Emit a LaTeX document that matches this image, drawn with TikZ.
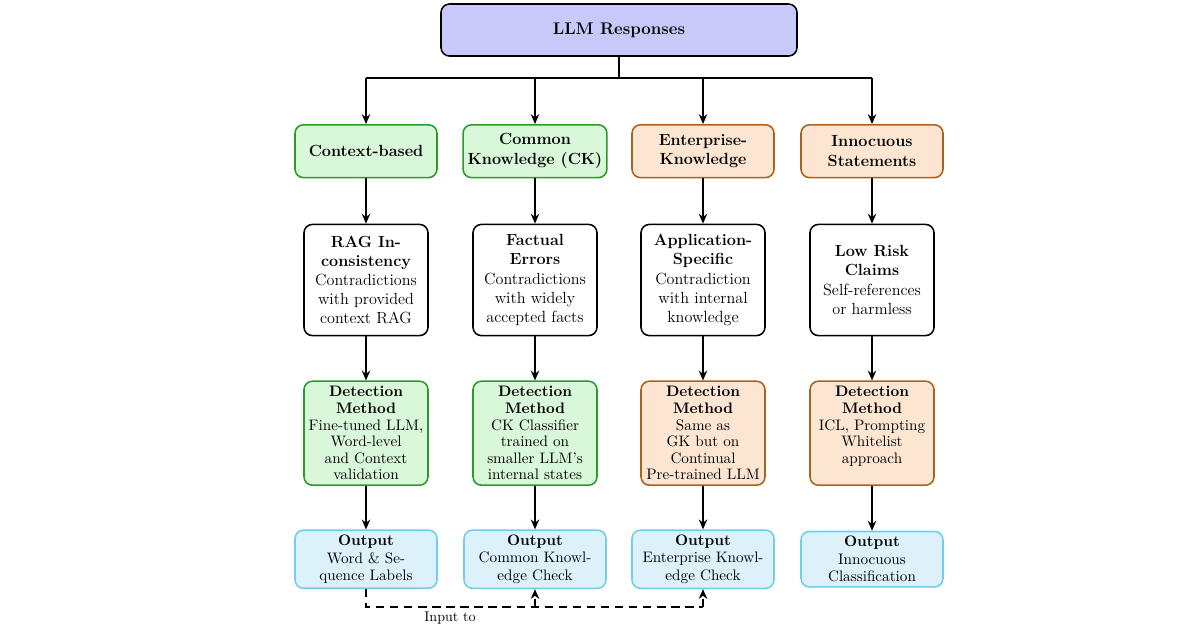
\documentclass[tikz,border=0pt]{standalone}
\usepackage{tikz}
\usetikzlibrary{arrows.meta,positioning}
\definecolor{topfill}{HTML}{C9C9F9}
\definecolor{grnfill}{HTML}{D9F7D9}
\definecolor{grnline}{HTML}{2A9A2A}
\definecolor{orgfill}{HTML}{FCE6D2}
\definecolor{orgline}{HTML}{A8621E}
\definecolor{bluefill}{HTML}{DDF1FA}
\definecolor{blueline}{HTML}{6FCDEE}
\tikzset{
  base/.style={rectangle, rounded corners=6pt, line width=1.1pt, align=center, font=\fontsize{11}{13.5}\selectfont},
  head/.style={base, draw=black, fill=topfill, minimum width=8.9cm, minimum height=1.3cm, font=\fontsize{12}{14}\selectfont\bfseries},
  catg/.style={base, draw=grnline, fill=grnfill, minimum width=3.55cm, minimum height=1.32cm, font=\fontsize{11.5}{14}\selectfont\bfseries},
  cato/.style={catg, draw=orgline, fill=orgfill},
  err/.style={base, draw=black, fill=white, minimum width=3.1cm, minimum height=2.78cm, font=\fontsize{11.5}{13.6}\selectfont},
  detg/.style={base, draw=grnline, fill=grnfill, minimum width=3.1cm, minimum height=2.6cm, font=\fontsize{10.8}{11.8}\selectfont},
  deto/.style={detg, draw=orgline, fill=orgfill},
  outp/.style={base, draw=blueline, fill=bluefill, minimum width=3.55cm, minimum height=1.35cm, font=\fontsize{10.8}{12.5}\selectfont},
  arr/.style={-{Stealth[length=7pt,width=6pt]}, line width=1.1pt},
}
\begin{document}
\begin{tikzpicture}
\useasboundingbox (0,0) rectangle (30,-15.75);

%Top
\node[head] (top) at (15.475,-0.75){LLM Responses};
%Categories
\node[catg] (c1) at (9.15,-3.78){Context-based};
\node[catg] (c2) at (13.375,-3.78){Common\\Knowledge (CK)};
\node[cato] (c3) at (17.575,-3.78){Enterprise-\\Knowledge};
\node[cato] (c4) at (21.8,-3.78){Innocuous\\Statements};
%Errors
\node[err] (e1) at (9.15,-7){\textbf{RAG In-}\\\textbf{consistency}\\Contradictions\\with provided\\context RAG};
\node[err] (e2) at (13.375,-7){\textbf{Factual}\\\textbf{Errors}\\Contradictions\\with widely\\accepted facts};
\node[err] (e3) at (17.575,-7){\textbf{Application-}\\\textbf{Specific}\\Contradiction\\with internal\\knowledge};
\node[err] (e4) at (21.8,-7){\textbf{Low Risk}\\\textbf{Claims}\\Self-references\\or harmless};
%Detection
\node[detg] (d1) at (9.15,-10.83){\textbf{Detection}\\\textbf{Method}\\Fine-tuned LLM,\\Word-level\\and Context\\validation};
\node[detg] (d2) at (13.375,-10.83){\textbf{Detection}\\\textbf{Method}\\CK Classifier\\trained on\\smaller LLM's\\internal states};
\node[deto] (d3) at (17.575,-10.83){\textbf{Detection}\\\textbf{Method}\\Same as\\GK but on\\Continual\\Pre-trained LLM};
\node[deto] (d4) at (21.8,-10.83){\textbf{Detection}\\\textbf{Method}\\ICL, Prompting\\Whitelist\\approach\\\mbox{}};
%Output
\node[outp] (o1) at (9.15,-13.98){\textbf{Output}\\Word \& Se-\\quence Labels};
\node[outp] (o2) at (13.375,-13.98){\textbf{Output}\\Common Knowl-\\edge Check};
\node[outp] (o3) at (17.575,-13.98){\textbf{Output}\\Enterprise Knowl-\\edge Check};
\node[outp] (o4) at (21.8,-13.98){\textbf{Output}\\Innocuous\\Classification};

%Connectors
\coordinate (split) at (15.475,-1.95);
\draw[line width=1.1pt] (top.south) -- (split);
\draw[line width=1.1pt] (split -| c1) -- (split -| c4);
\foreach \i in {1,2,3,4}{
  \draw[arr] (split -| c\i) -- (c\i.north);
  \draw[arr] (c\i) -- (e\i);
  \draw[arr] (e\i) -- (d\i);
  \draw[arr] (d\i) -- (o\i);
}
\coordinate (low) at (9.15,-15.18);
\draw[line width=1.1pt, dash pattern=on 6pt off 4pt] (o1.south) -- (low) -- (low -| o3);
\draw[arr, dash pattern=on 6pt off 4pt] (low -| o2) -- (o2.south);
\draw[arr, dash pattern=on 6pt off 4pt] (low -| o3) -- (o3.south);
\coordinate (lblpos) at (11.25,-15.18);
\node[font=\fontsize{10}{12}\selectfont, below=0pt of lblpos] (lbl) {Input to};
\end{tikzpicture}
\end{document}
